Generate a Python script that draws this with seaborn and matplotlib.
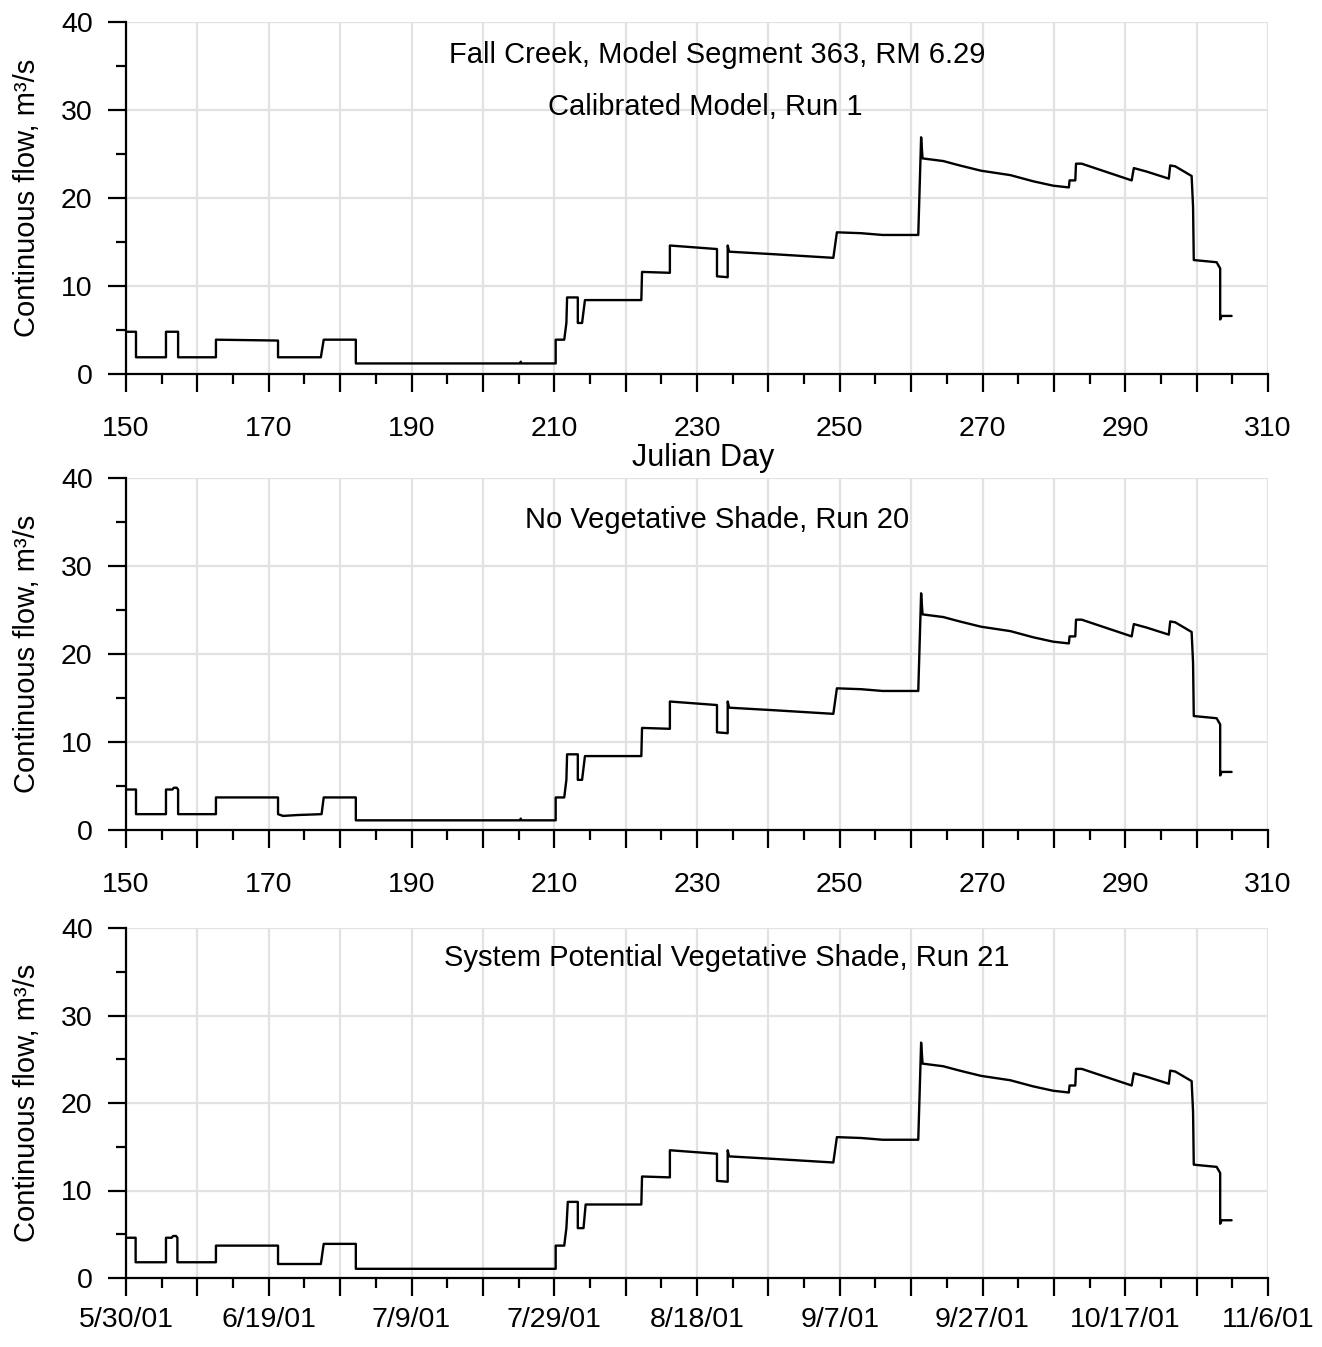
import numpy as np
import pandas as pd
import seaborn as sns
import matplotlib.pyplot as plt
from matplotlib.ticker import MultipleLocator

# Continuous flow (m3/s), by julian day.
# A step is written as two points on the same day.
run1_day = [150.0, 151.4, 151.4, 155.6, 155.6, 157.3, 157.3, 162.6, 162.6, 171.3,
            171.3, 177.3, 177.7, 182.2, 182.2, 205.2, 205.3, 205.4, 210.2, 210.2,
            211.4, 211.7, 211.8, 213.3, 213.3, 213.9, 214.3]
run1_flow = [4.8, 4.8, 1.9, 1.9, 4.8, 4.8, 1.9, 1.9, 3.9, 3.8,
             1.9, 1.9, 3.9, 3.9, 1.2, 1.2, 1.4, 1.2, 1.2, 3.9,
             3.9, 5.8, 8.7, 8.7, 5.8, 5.8, 8.4]

run20_day = [150.0, 151.4, 151.4, 155.6, 155.6, 156.5, 156.7, 157.1, 157.3, 157.3,
             162.6, 162.6, 171.3, 171.3, 172.0, 174.0, 177.4, 177.7, 182.2, 182.2,
             205.2, 205.3, 205.4, 210.2, 210.2, 211.4, 211.7, 211.8, 213.3, 213.3,
             213.9, 214.3]
run20_flow = [4.6, 4.6, 1.8, 1.8, 4.6, 4.6, 4.8, 4.8, 4.6, 1.8,
              1.8, 3.7, 3.7, 1.8, 1.6, 1.7, 1.8, 3.7, 3.7, 1.1,
              1.1, 1.3, 1.1, 1.1, 3.7, 3.7, 5.7, 8.6, 8.6, 5.7,
              5.7, 8.4]

run21_day = [150.0, 151.35, 151.35, 155.6, 155.6, 156.4, 156.6, 157.0, 157.2, 157.2,
             162.6, 162.6, 171.3, 171.3, 177.3, 177.7, 182.2, 182.2, 210.2, 210.2,
             211.4, 211.7, 211.9, 213.3, 213.3, 214.1, 214.4]
run21_flow = [4.6, 4.6, 1.8, 1.8, 4.6, 4.6, 4.8, 4.8, 4.6, 1.8,
              1.8, 3.7, 3.7, 1.6, 1.6, 3.9, 3.9, 1.05, 1.05, 3.7,
              3.7, 5.7, 8.7, 8.7, 5.7, 5.7, 8.4]

# after day 214 the three runs are practically the same
late_day = [222.2, 222.3, 226.2, 226.2, 232.8, 232.8, 234.3, 234.3, 234.5, 241.0,
            249.1, 249.6, 253.0, 256.0, 261.0, 261.4, 261.6, 264.5, 266.8, 269.8,
            273.9, 277.1, 279.9, 282.1, 282.2, 283.0, 283.1, 283.9, 285.0, 290.9,
            291.2, 293.0, 296.1, 296.3, 297.0, 299.3, 299.5, 299.6, 302.8, 303.3,
            303.3, 303.5, 304.9]
late_flow = [8.4, 11.6, 11.5, 14.6, 14.2, 11.1, 11.0, 14.6, 13.9, 13.6,
             13.2, 16.1, 16.0, 15.8, 15.8, 26.9, 24.5, 24.2, 23.7, 23.1,
             22.6, 21.9, 21.4, 21.2, 22.0, 22.0, 23.9, 23.9, 23.6, 22.0,
             23.4, 23.0, 22.2, 23.7, 23.6, 22.5, 19.0, 12.95, 12.7, 12.0,
             6.2, 6.6, 6.6]

panel_titles = [["Fall Creek, Model Segment 363, RM 6.29", "Calibrated Model, Run 1"],
                ["No Vegetative Shade, Run 20"],
                ["System Potential Vegetative Shade, Run 21"]]
label_days = list(range(150, 311, 20))

sns.set_theme(style="ticks")
plt.rcParams['font.family'] = ['Liberation Sans', 'DejaVu Sans']
plt.rcParams['text.color'] = 'black'
plt.rcParams['axes.labelcolor'] = 'black'

fig = plt.figure(figsize=(13.22, 13.47), dpi=100)
W, H = 1322.0, 1347.0
rects = [(126, 22, 374), (126, 478, 830), (126, 928, 1278)]  # left, top, bottom in px
axes = [fig.add_axes([l / W, 1 - b / H, 1142 / W, (b - t) / H]) for l, t, b in rects]

runs = [(run1_day, run1_flow), (run20_day, run20_flow), (run21_day, run21_flow)]
for ax, (d, f) in zip(axes, runs):
    df = pd.DataFrame({"day": d + late_day, "flow": f + late_flow})
    sns.lineplot(data=df, x="day", y="flow", color="black", lw=1.7,
                 estimator=None, sort=False, ax=ax)
    ax.set_xlim(150, 310)
    ax.set_ylim(0, 40)
    ax.xaxis.set_major_locator(MultipleLocator(10))
    ax.xaxis.set_minor_locator(MultipleLocator(5))
    ax.yaxis.set_major_locator(MultipleLocator(10))
    ax.yaxis.set_minor_locator(MultipleLocator(5))
    ax.grid(True, which="major", color="#e2e2e2", lw=1.6)
    ax.set_axisbelow(True)
    for s in ["top", "right"]:
        ax.spines[s].set_visible(False)
    for s in ["left", "bottom"]:
        ax.spines[s].set_linewidth(1.6)
        ax.spines[s].set_color("black")
    ax.tick_params(which="major", direction="out", length=13, width=1.6, color="black",
                   labelsize=20.5, labelcolor="black")
    ax.tick_params(which="minor", direction="out", length=7, width=1.6, color="black")
    ax.tick_params(axis="x", pad=17)
    ax.tick_params(axis="y", pad=11)
    ax.set_ylabel("Continuous flow, m³/s", fontsize=21)
    ax.yaxis.set_label_coords(-0.0745, 0.5)
    ax.set_xlabel("")

# x tick labels: every 20 days
tick_pos = list(range(150, 311, 10))
for ax in axes[:2]:
    ax.set_xticks(tick_pos)
    ax.set_xticklabels([str(v) if v in label_days else "" for v in tick_pos])

start = pd.Timestamp("2001-01-01")
date_lbl = []
for v in tick_pos:
    t = start + pd.Timedelta(days=v - 1)
    date_lbl.append(f"{t.month}/{t.day}/{t:%y}" if v in label_days else "")
axes[2].set_xticks(tick_pos)
axes[2].set_xticklabels(date_lbl)
axes[2].tick_params(axis="x", pad=8)

axes[0].set_xlabel("Julian Day", fontsize=22)
axes[0].xaxis.set_label_coords(0.505, -0.196)

# panel titles
axes[0].text(0.518, 0.906, panel_titles[0][0], transform=axes[0].transAxes,
             ha="center", va="center", fontsize=21)
axes[0].text(0.507, 0.759, panel_titles[0][1], transform=axes[0].transAxes,
             ha="center", va="center", fontsize=21)
axes[1].text(0.5175, 0.881, panel_titles[1][0], transform=axes[1].transAxes,
             ha="center", va="center", fontsize=21)
axes[2].text(0.526, 0.914, panel_titles[2][0], transform=axes[2].transAxes,
             ha="center", va="center", fontsize=21)

fig.savefig("out.png", dpi=100, facecolor="white")
